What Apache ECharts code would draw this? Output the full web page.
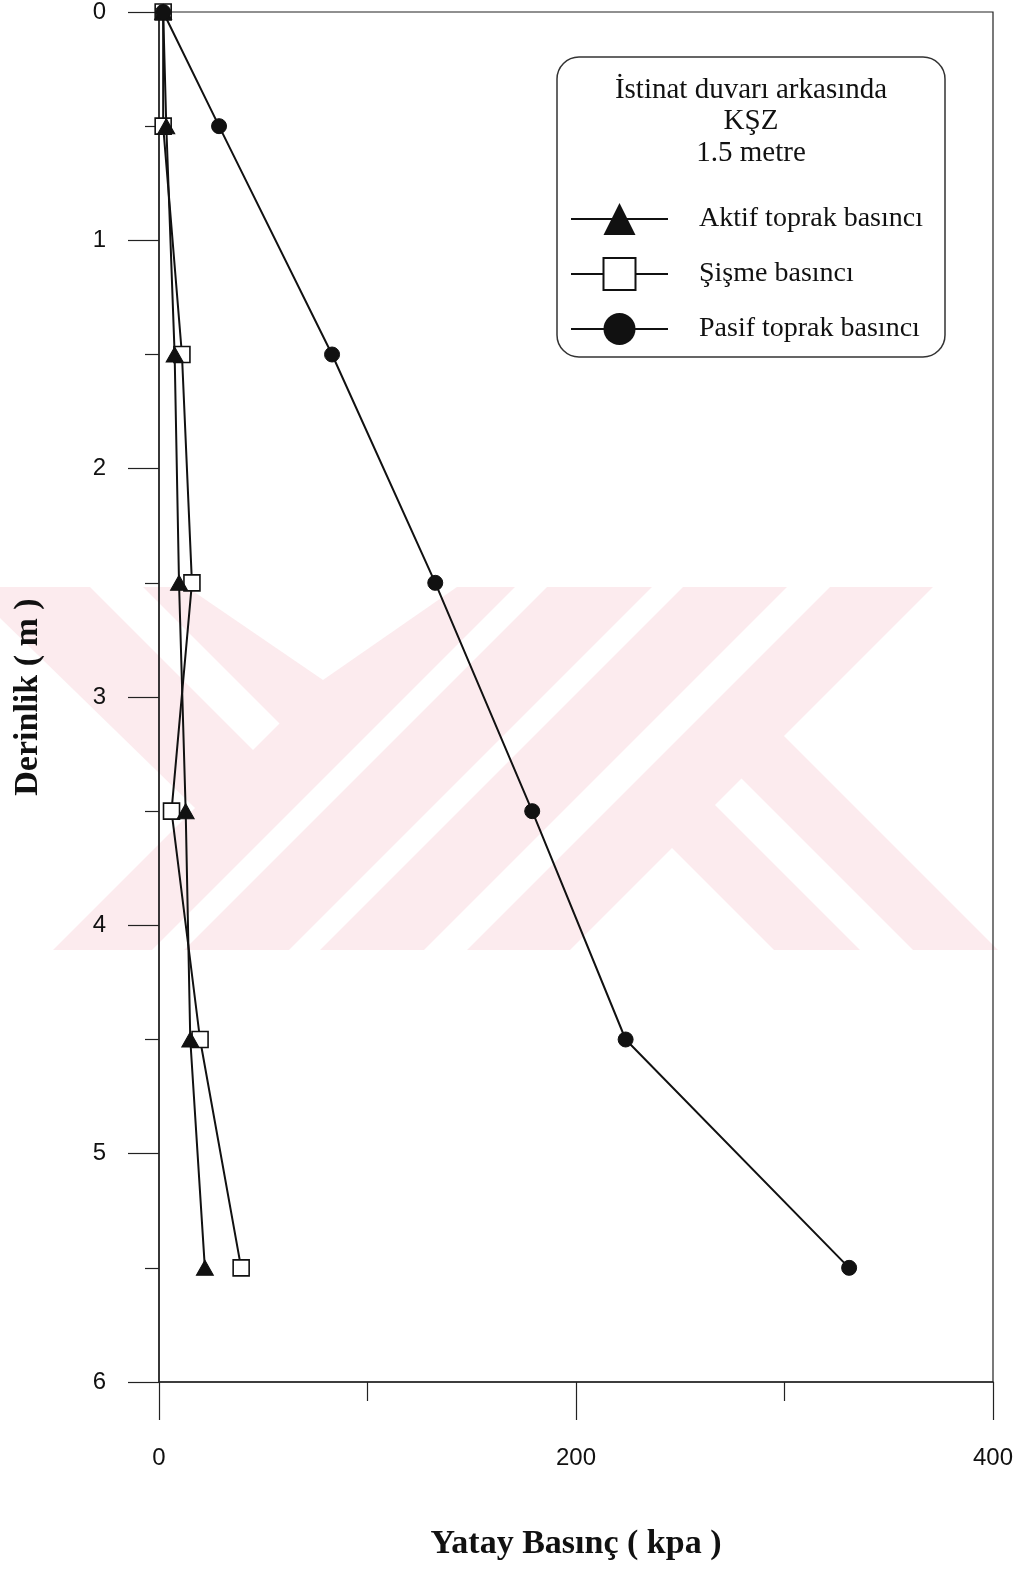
<!DOCTYPE html>
<html>
<head>
<meta charset="utf-8">
<script src="https://cdn.jsdelivr.net/npm/echarts@6/dist/echarts.min.js"></script>
<style>
  html, body { margin: 0; padding: 0; background: #fff; }
  #chart { width: 1019px; height: 1570px; }
</style>
</head>
<body>
<div id="chart"></div>
<script>
// Depth below the retaining wall (m)
const depths = [0, 0.5, 1.5, 2.5, 3.5, 4.5, 5.5];
// Horizontal pressures (kPa)
const aktif = [2, 3.5, 7.5, 9.6, 12.8, 15, 22];
const sisme = [2, 2, 11, 15.8, 6, 19.7, 39.4];
const pasif = [2, 28.8, 83, 132.5, 179, 223.8, 331];

const seriesNames = ['Aktif toprak basıncı', 'Şişme basıncı', 'Pasif toprak basıncı'];
const boxTitle = ['İstinat duvarı arkasında', 'KŞZ', '1.5 metre'];
const xTitle = 'Yatay Basınç ( kpa )';
const yTitle = 'Derinlik ( m )';

const pair = vals => vals.map((v, i) => [v, depths[i]]);

// faint pink background emblem (pink plate with white cut-outs)
const PINK = '#fcebee';
const emblemCuts = [
  [[187,587],[457,587],[323,680]],
  [[90,587],[143,587],[279.5,723.5],[253,750]],
  [[0,618],[195,808],[53,950],[0,950]],
  [[515,587],[547,587],[184,950],[152,950]],
  [[652,587],[683,587],[320,950],[289,950]],
  [[787,587],[830,587],[467,950],[424,950]],
  [[933,587],[1007,587],[1007,950],[998,950],[784,736]],
  [[741.5,778.5],[913,950],[860,950],[715,805]],
  [[672,848],[774,950],[570,950]]
];
const emblem = [{ type: 'rect', z: -20, shape: { x: 0, y: 587, width: 1007, height: 363 }, style: { fill: PINK } }]
  .concat(emblemCuts.map(p => ({ type: 'polygon', z: -19, shape: { points: p }, style: { fill: '#fff' } })));

const serif = '"Liberation Serif", "Times New Roman", serif';
const sans = '"Liberation Sans", Arial, sans-serif';

const chart = echarts.init(document.getElementById('chart'));
chart.setOption({
  animation: false,
  backgroundColor: '#fff',
  grid: { left: 159, right: 26, top: 10, bottom: 188, show: true, borderColor: '#222', borderWidth: 1.2, backgroundColor: 'transparent' },
  xAxis: {
    type: 'value', min: 0, max: 400, interval: 200,
    axisLine: { show: true, onZero: false, lineStyle: { color: '#222', width: 1.5 } },
    axisTick: { show: true, length: 38, lineStyle: { color: '#222', width: 1.2 } },
    minorTick: { show: true, splitNumber: 2, length: 19, lineStyle: { color: '#222', width: 1.2 } },
    splitLine: { show: false },
    axisLabel: { margin: 64, color: '#111', fontFamily: sans, fontSize: 24 },
    name: xTitle, nameLocation: 'middle', nameGap: 145,
    nameTextStyle: { fontFamily: serif, fontWeight: 'bold', fontSize: 34, color: '#111' }
  },
  yAxis: {
    type: 'value', min: 0, max: 6, interval: 1, inverse: true,
    axisLine: { show: true, onZero: false, lineStyle: { color: '#222', width: 1.5 } },
    axisTick: { show: true, length: 31, lineStyle: { color: '#222', width: 1.2 } },
    minorTick: { show: true, splitNumber: 2, length: 14, lineStyle: { color: '#222', width: 1.2 } },
    splitLine: { show: false },
    axisLabel: { margin: 53, color: '#111', fontFamily: sans, fontSize: 24 },
    name: yTitle, nameLocation: 'middle', nameGap: 114, nameRotate: 90,
    nameTextStyle: { fontFamily: serif, fontWeight: 'bold', fontSize: 34, color: '#111' }
  },
  legend: {
    orient: 'vertical', left: 565, top: 198,
    itemWidth: 97, itemHeight: 40, itemGap: 22,
    data: seriesNames,
    textStyle: { fontFamily: serif, fontSize: 28, color: '#111', padding: [0, 0, 0, 26] }
  },
  graphic: emblem.concat([
    { type: 'rect', z: 5, shape: { x: 557, y: 57, width: 388, height: 300, r: 22 },
      style: { fill: 'transparent', stroke: '#333', lineWidth: 1.5 } },
    { type: 'text', z: 6, x: 751, y: 90, style: { text: boxTitle[0], font: '29px ' + serif, fill: '#111', textAlign: 'center', textVerticalAlign: 'middle' } },
    { type: 'text', z: 6, x: 751, y: 121, style: { text: boxTitle[1], font: '29px ' + serif, fill: '#111', textAlign: 'center', textVerticalAlign: 'middle' } },
    { type: 'text', z: 6, x: 751, y: 153, style: { text: boxTitle[2], font: '29px ' + serif, fill: '#111', textAlign: 'center', textVerticalAlign: 'middle' } }
  ]),
  series: [
    {
      name: seriesNames[1], type: 'line', z: 3, data: pair(sisme),
      symbol: 'rect', symbolSize: 16,
      lineStyle: { color: '#111', width: 2 },
      itemStyle: { color: '#fff', borderColor: '#111', borderWidth: 1.6 }
    },
    {
      name: seriesNames[0], type: 'line', z: 4, data: pair(aktif),
      symbol: 'triangle', symbolSize: [17, 15],
      lineStyle: { color: '#111', width: 2 },
      itemStyle: { color: '#111', borderColor: '#111' }
    },
    {
      name: seriesNames[2], type: 'line', z: 5, data: pair(pasif),
      symbol: 'circle', symbolSize: 15,
      lineStyle: { color: '#111', width: 2 },
      itemStyle: { color: '#111', borderColor: '#111' }
    }
  ]
});
</script>
</body>
</html>
